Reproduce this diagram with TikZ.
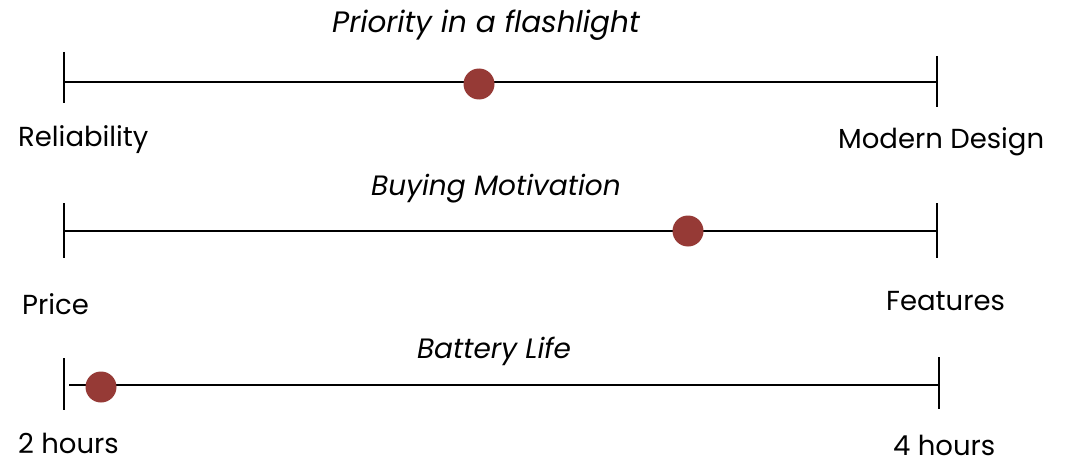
\documentclass[tikz,border=0pt]{standalone}
\usepackage{fontspec}
\setmainfont{Poppins}
\definecolor{dotred}{RGB}{150,58,54}
\begin{document}
\begin{tikzpicture}[x=1pt,y=-1pt,
  axis/.style={line width=2pt,black},
  tick/.style={line width=2pt,black},
  dot/.style={circle,fill=dotred,inner sep=0pt,minimum size=31pt},
  lbl/.style={font=\fontsize{27.5}{30}\selectfont,inner sep=0pt,anchor=base west},
  ttl/.style={font=\fontsize{28}{30}\selectfont\itshape,inner sep=0pt,anchor=base},
]
\useasboundingbox[fill=white] (0,0) rectangle (1076,460);
% row 1
\coordinate (a1) at (64,82);
\coordinate (b1) at (937,82);
\draw[axis] (a1) -- (b1);
\draw[tick] (64,52) -- (64,103);
\draw[tick] (937,56) -- (937,107);
\node[dot] (d1) at (479,84) {};
\node[ttl,font=\fontsize{29.5}{32}\selectfont\itshape] (t1) at (486,33) {Priority in a flashlight};
\node[lbl] (l1) at (18,146) {Reliability};
\node[lbl] (r1) at (838,148) {Modern Design};
% row 2
\coordinate (a2) at (64,231);
\coordinate (b2) at (937,231);
\draw[axis] (a2) -- (b2);
\draw[tick] (64,203) -- (64,258);
\draw[tick] (937,203) -- (937,258);
\node[dot] (d2) at (688,231) {};
\node[ttl] (t2) at (496,195) {Buying Motivation};
\node[lbl] (l2) at (22,314) {Price};
\node[lbl] (r2) at (886,310) {Features};
% row 3
\coordinate (a3) at (69,385);
\coordinate (b3) at (939,385);
\draw[axis] (a3) -- (b3);
\draw[tick] (64,358) -- (64,410);
\draw[tick] (939,357) -- (939,409);
\node[dot] (d3) at (101,387) {};
\node[ttl] (t3) at (494,358) {Battery Life};
\node[lbl] (l3) at (18,453) {2 hours};
\node[lbl] (r3) at (893,455) {4 hours};
\end{tikzpicture}
\end{document}
